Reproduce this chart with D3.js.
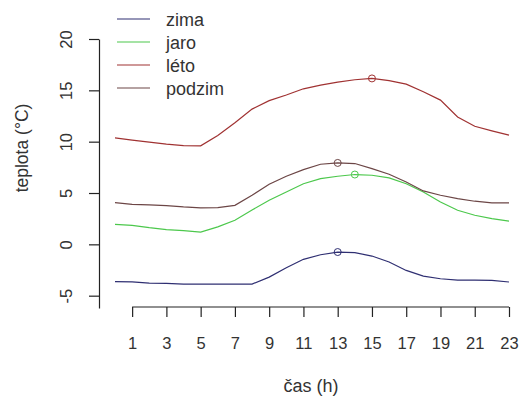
<!DOCTYPE html>
<html>
<head>
<meta charset="utf-8">
<script src="https://cdn.jsdelivr.net/npm/d3@7"></script>
<style>
  html, body { margin: 0; padding: 0; background: #fff; }
  svg { display: block; font-family: "Liberation Sans", Arial, sans-serif; }
</style>
</head>
<body>
<svg id="chart" width="519" height="396"></svg>
<script>
// Hourly mean temperatures per season
const hours = d3.range(0, 24);
const zima   = [-3.64, -3.66, -3.77, -3.80, -3.87, -3.87, -3.87, -3.87, -3.87, -3.19, -2.28, -1.46,
                -1.01, -0.75, -0.81, -1.14, -1.72, -2.54, -3.09, -3.35, -3.48, -3.48, -3.51, -3.67];
const jaro   = [1.95, 1.85, 1.62, 1.43, 1.33, 1.20, 1.70, 2.34, 3.35, 4.30, 5.10, 5.90,
                6.40, 6.63, 6.80, 6.73, 6.47, 5.90, 5.10, 4.13, 3.32, 2.83, 2.50, 2.27];
const leto   = [10.37, 10.15, 9.95, 9.76, 9.62, 9.59, 10.60, 11.85, 13.17, 14.00, 14.55, 15.15,
                15.50, 15.80, 16.03, 16.16, 15.94, 15.60, 14.86, 14.05, 12.40, 11.50, 11.05, 10.63];
const podzim = [4.07, 3.90, 3.84, 3.77, 3.64, 3.55, 3.57, 3.80, 4.78, 5.85, 6.63, 7.28,
                7.80, 7.93, 7.87, 7.38, 6.83, 6.08, 5.20, 4.78, 4.45, 4.20, 4.03, 4.03];

const seasonNames  = ["zima", "jaro", "léto", "podzim"];
const seasonColors = ["#2f2f72", "#4cc84c", "#a03232", "#6c4646"];
const seasonValues = [zima, jaro, leto, podzim];

const xTicks = [1, 3, 5, 7, 9, 11, 13, 15, 17, 19, 21, 23];
const yTicks = [-5, 0, 5, 10, 15, 20];

const svg = d3.select("#chart");

const x = d3.scaleLinear().domain([0, 23]).range([115, 509]);
const y = d3.scaleLinear().domain([-6.2, 20]).range([308, 39]);

// x axis: line spans first to last tick only
const gx = svg.append("g")
  .attr("transform", "translate(0,307)")
  .call(d3.axisBottom(x).tickValues(xTicks).tickSize(10).tickPadding(20).tickFormat(d3.format("d")));
gx.select(".domain").attr("d", `M${x(1)},0H${x(23)}`);
gx.selectAll("line, path").attr("stroke", "#222").attr("stroke-width", 1.2);
gx.selectAll("text").attr("font-size", 16.5).attr("fill", "#333")
  .attr("font-family", "'Liberation Sans', Arial, sans-serif");

// y axis with rotated tick labels
const gy = svg.append("g")
  .attr("transform", "translate(99,0)")
  .call(d3.axisLeft(y).tickValues(yTicks).tickSize(10).tickSizeOuter(0).tickFormat(""));
gy.selectAll("line, path").attr("stroke", "#222").attr("stroke-width", 1.2);
gy.selectAll(".tick").append("text")
  .attr("transform", "translate(-27,0) rotate(-90)")
  .attr("text-anchor", "middle")
  .attr("font-size", 16.5)
  .attr("fill", "#333")
  .attr("font-family", "'Liberation Sans', Arial, sans-serif")
  .text(d => d);

// axis titles
svg.append("text")
  .attr("x", 311).attr("y", 392)
  .attr("text-anchor", "middle")
  .attr("font-size", 18).attr("fill", "#333")
  .text("čas (h)");
svg.append("text")
  .attr("transform", "translate(28,148) rotate(-90)")
  .attr("text-anchor", "middle")
  .attr("font-size", 17.5).attr("fill", "#333")
  .text("teplota (°C)");

// season curves
const line = d3.line().x((d, i) => x(hours[i])).y(d => y(d));
seasonValues.forEach((vals, k) => {
  svg.append("path")
    .datum(vals)
    .attr("d", line)
    .attr("fill", "none")
    .attr("stroke", seasonColors[k])
    .attr("stroke-width", 1.2);
  // mark the daily maximum
  const iMax = d3.maxIndex(vals);
  svg.append("circle")
    .attr("cx", x(hours[iMax]))
    .attr("cy", y(vals[iMax]))
    .attr("r", 3.5)
    .attr("fill", "none")
    .attr("stroke", seasonColors[k])
    .attr("stroke-width", 1);
});

// legend
const legend = svg.append("g");
seasonNames.forEach((name, k) => {
  const ly = 19 + k * 23;
  legend.append("line")
    .attr("x1", 117).attr("x2", 150)
    .attr("y1", ly).attr("y2", ly)
    .attr("stroke", seasonColors[k]).attr("stroke-width", 1.2);
  legend.append("text")
    .attr("x", 166).attr("y", ly + 6.5)
    .attr("font-size", 18).attr("fill", "#333")
    .text(name);
});
</script>
</body>
</html>
